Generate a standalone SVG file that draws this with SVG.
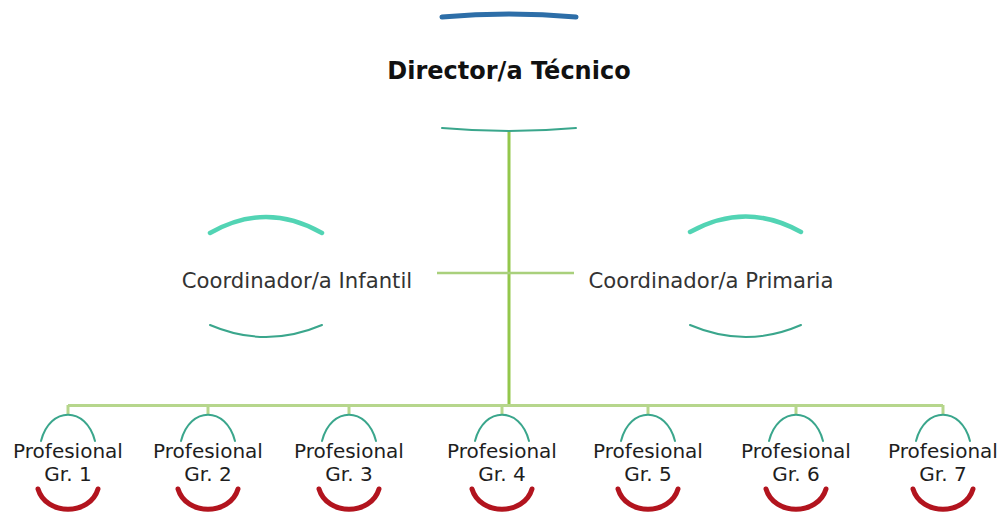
<svg xmlns="http://www.w3.org/2000/svg" width="1003" height="514" viewBox="0 0 1003 514">
<style>
  text { font-family: "DejaVu Sans", Verdana, sans-serif; text-anchor: middle; }
  .dir { font-weight: bold; font-size: 24px; fill: #111; }
  .coord { font-size: 21.2px; fill: #333; }
  .prof { font-size: 20px; fill: #1e1e1e; }
  .arc { fill: none; stroke-linecap: round; }
  .blue { stroke: #2d6ea8; stroke-width: 5; }
  .tealthin { stroke: #3aa68c; stroke-width: 2; }
  .mint { stroke: #52d4b4; stroke-width: 4.5; }
  .red { stroke: #b2141e; stroke-width: 5; }
  .main { stroke: #93c74c; stroke-width: 3; fill: none; }
  .bar { stroke: #b6d68c; stroke-width: 3; fill: none; }
  .cross { stroke: #a9d07c; stroke-width: 2.5; fill: none; }
</style>
<defs>
  <path id="ptop" d="M -27,441 C -18,406 18,406 27,441"/>
  <path id="pbot" d="M -30,489 C -22,516 22,516 30,489"/>
</defs>
<g id="connectors">
  <line class="main" x1="509" y1="131" x2="509" y2="406"/>
  <line class="cross" x1="437" y1="273" x2="574" y2="273"/>
  <line class="bar" x1="68" y1="405.5" x2="943" y2="405.5"/>
  <line class="bar" x1="68" y1="405" x2="68" y2="415"/>
  <line class="bar" x1="208" y1="405" x2="208" y2="415"/>
  <line class="bar" x1="349" y1="405" x2="349" y2="415"/>
  <line class="bar" x1="502" y1="405" x2="502" y2="415"/>
  <line class="bar" x1="648" y1="405" x2="648" y2="415"/>
  <line class="bar" x1="796" y1="405" x2="796" y2="415"/>
  <line class="bar" x1="943" y1="405" x2="943" y2="415"/>
</g>
<g id="director">
  <path class="arc blue" d="M 442,17 Q 509,11 576,17"/>
  <text class="dir" x="509" y="79">Director/a Técnico</text>
  <path class="arc tealthin" d="M 442,128 Q 509,134 576,128"/>
</g>
<g id="coord-infantil">
  <path class="arc mint" d="M 210,233 Q 266,201 322,233"/>
  <text class="coord" x="297" y="288">Coordinador/a Infantil</text>
  <path class="arc tealthin" d="M 210,325 Q 266,349 322,325"/>
</g>
<g id="coord-primaria">
  <path class="arc mint" d="M 690,232 Q 746,201 801,232"/>
  <text class="coord" x="711" y="288">Coordinador/a Primaria</text>
  <path class="arc tealthin" d="M 690,325 Q 746,349 801,325"/>
</g>
<g id="prof1" transform="translate(68,0)">
  <use href="#ptop" class="arc tealthin"/>
  <text class="prof" x="0" y="458">Profesional</text>
  <text class="prof" x="0" y="481">Gr. 1</text>
  <use href="#pbot" class="arc red"/>
</g>
<g id="prof2" transform="translate(208,0)">
  <use href="#ptop" class="arc tealthin"/>
  <text class="prof" x="0" y="458">Profesional</text>
  <text class="prof" x="0" y="481">Gr. 2</text>
  <use href="#pbot" class="arc red"/>
</g>
<g id="prof3" transform="translate(349,0)">
  <use href="#ptop" class="arc tealthin"/>
  <text class="prof" x="0" y="458">Profesional</text>
  <text class="prof" x="0" y="481">Gr. 3</text>
  <use href="#pbot" class="arc red"/>
</g>
<g id="prof4" transform="translate(502,0)">
  <use href="#ptop" class="arc tealthin"/>
  <text class="prof" x="0" y="458">Profesional</text>
  <text class="prof" x="0" y="481">Gr. 4</text>
  <use href="#pbot" class="arc red"/>
</g>
<g id="prof5" transform="translate(648,0)">
  <use href="#ptop" class="arc tealthin"/>
  <text class="prof" x="0" y="458">Profesional</text>
  <text class="prof" x="0" y="481">Gr. 5</text>
  <use href="#pbot" class="arc red"/>
</g>
<g id="prof6" transform="translate(796,0)">
  <use href="#ptop" class="arc tealthin"/>
  <text class="prof" x="0" y="458">Profesional</text>
  <text class="prof" x="0" y="481">Gr. 6</text>
  <use href="#pbot" class="arc red"/>
</g>
<g id="prof7" transform="translate(943,0)">
  <use href="#ptop" class="arc tealthin"/>
  <text class="prof" x="0" y="458">Profesional</text>
  <text class="prof" x="0" y="481">Gr. 7</text>
  <use href="#pbot" class="arc red"/>
</g>
</svg>
